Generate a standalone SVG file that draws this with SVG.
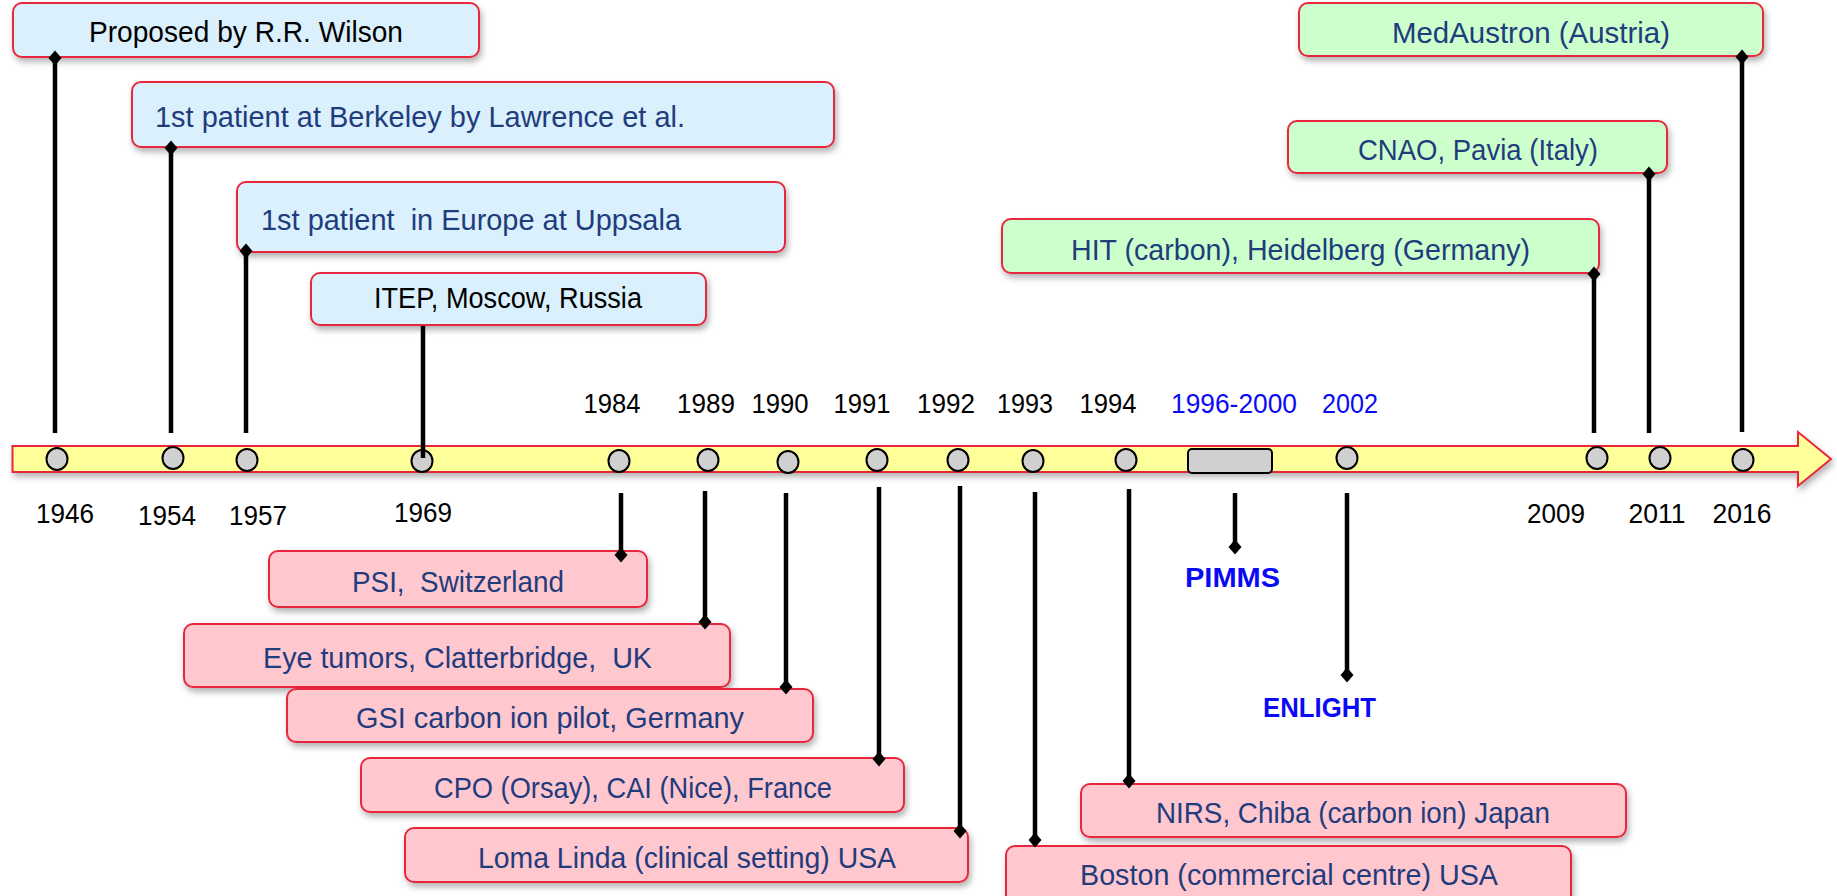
<svg xmlns="http://www.w3.org/2000/svg" width="1837" height="896" viewBox="0 0 1837 896">
<defs>
<filter id="sh" x="-5%" y="-20%" width="110%" height="160%">
<feDropShadow dx="2" dy="4" stdDeviation="3" flood-color="#000" flood-opacity="0.3"/>
</filter>
<marker id="dia" viewBox="-8 -8 16 16" markerWidth="16" markerHeight="16" markerUnits="userSpaceOnUse" orient="auto">
<polygon points="-7.5,0 0,-6.5 7.5,0 0,6.5" fill="#000"/>
</marker>
<style>
.box{stroke:#E8283C;stroke-width:2;filter:url(#sh)}
.blue{fill:#DAF0FC}
.green{fill:#CCFFCC}
.pink{fill:#FFC7CE}
.t{font-family:"Liberation Sans",Arial,sans-serif;font-size:29px}
.nav{fill:#1F3C7D}
.blk{fill:#000}
.yr{font-family:"Liberation Sans",Arial,sans-serif;font-size:27px;fill:#000;text-anchor:middle}
.yb{fill:#0A0AF5}
.bold{font-family:"Liberation Sans",Arial,sans-serif;font-size:27px;font-weight:bold;fill:#0A0AF5}
.ln{stroke:#000;stroke-width:4.5;fill:none}
.lnd{stroke:#000;stroke-width:4.5;fill:none;marker-end:url(#dia)}
.dot{fill:#D0D0D0;stroke:#000;stroke-width:2}
</style>
</defs>
<rect width="1837" height="896" fill="#fff"/>

<g id="timeline">
<polygon points="12.5,446 1798,446 1798,432 1831,459 1798,486 1798,472 12.5,472" fill="#FFFF99" stroke="#E8283C" stroke-width="2" filter="url(#sh)"/>
</g>

<g id="markers">
<ellipse class="dot" cx="57" cy="459" rx="10.5" ry="11"/>
<ellipse class="dot" cx="173" cy="458" rx="10.5" ry="11"/>
<ellipse class="dot" cx="247" cy="460" rx="10.5" ry="11"/>
<ellipse class="dot" cx="422" cy="461" rx="10.5" ry="11"/>
<ellipse class="dot" cx="619" cy="461" rx="10.5" ry="11"/>
<ellipse class="dot" cx="708" cy="460" rx="10.5" ry="11"/>
<ellipse class="dot" cx="788" cy="462" rx="10.5" ry="11"/>
<ellipse class="dot" cx="877" cy="460" rx="10.5" ry="11"/>
<ellipse class="dot" cx="958" cy="460" rx="10.5" ry="11"/>
<ellipse class="dot" cx="1033" cy="461" rx="10.5" ry="11"/>
<ellipse class="dot" cx="1126" cy="460" rx="10.5" ry="11"/>
<rect class="dot" x="1188" y="449" width="84" height="24" rx="4"/>
<ellipse class="dot" cx="1347" cy="458" rx="10.5" ry="11"/>
<ellipse class="dot" cx="1597" cy="458" rx="10.5" ry="11"/>
<ellipse class="dot" cx="1660" cy="458" rx="10.5" ry="11"/>
<ellipse class="dot" cx="1743" cy="460" rx="10.5" ry="11"/>
</g>

<g id="years">
<text class="yr" x="612" y="413" textLength="57" lengthAdjust="spacingAndGlyphs">1984</text>
<text class="yr" x="706" y="413" textLength="58" lengthAdjust="spacingAndGlyphs">1989</text>
<text class="yr" x="780" y="413" textLength="57" lengthAdjust="spacingAndGlyphs">1990</text>
<text class="yr" x="862" y="413" textLength="57" lengthAdjust="spacingAndGlyphs">1991</text>
<text class="yr" x="946" y="413" textLength="58" lengthAdjust="spacingAndGlyphs">1992</text>
<text class="yr" x="1025" y="413" textLength="56" lengthAdjust="spacingAndGlyphs">1993</text>
<text class="yr" x="1108" y="413" textLength="57" lengthAdjust="spacingAndGlyphs">1994</text>
<text class="yr yb" x="1234" y="413" textLength="126" lengthAdjust="spacingAndGlyphs">1996-2000</text>
<text class="yr yb" x="1350" y="413" textLength="56" lengthAdjust="spacingAndGlyphs">2002</text>
<text class="yr" x="65" y="523" textLength="58" lengthAdjust="spacingAndGlyphs">1946</text>
<text class="yr" x="167" y="525" textLength="58" lengthAdjust="spacingAndGlyphs">1954</text>
<text class="yr" x="258" y="525" textLength="58" lengthAdjust="spacingAndGlyphs">1957</text>
<text class="yr" x="423" y="522" textLength="58" lengthAdjust="spacingAndGlyphs">1969</text>
<text class="yr" x="1556" y="523" textLength="58" lengthAdjust="spacingAndGlyphs">2009</text>
<text class="yr" x="1657" y="523" textLength="57" lengthAdjust="spacingAndGlyphs">2011</text>
<text class="yr" x="1742" y="523" textLength="59" lengthAdjust="spacingAndGlyphs">2016</text>
</g>

<g id="n1946">
<rect class="box blue" x="13" y="3" width="466" height="54" rx="9"/>
<text class="t blk" x="89" y="42" textLength="314" lengthAdjust="spacingAndGlyphs">Proposed by R.R. Wilson</text>
</g>
<g id="n1954">
<rect class="box blue" x="132" y="82" width="702" height="65" rx="9"/>
<text class="t nav" x="155" y="127" textLength="530" lengthAdjust="spacingAndGlyphs">1st patient at Berkeley by Lawrence et al.</text>
</g>
<g id="n1957">
<rect class="box blue" x="237" y="182" width="548" height="70" rx="9"/>
<text class="t nav" x="261" y="230" textLength="420" lengthAdjust="spacingAndGlyphs" xml:space="preserve">1st patient  in Europe at Uppsala</text>
</g>
<g id="n1969">
<rect class="box blue" x="311" y="273" width="395" height="52" rx="9"/>
<text class="t blk" x="374" y="308" textLength="268" lengthAdjust="spacingAndGlyphs">ITEP, Moscow, Russia</text>
</g>
<g id="n2016">
<rect class="box green" x="1299" y="3" width="464" height="53" rx="9"/>
<text class="t nav" x="1392" y="43" textLength="278" lengthAdjust="spacingAndGlyphs">MedAustron (Austria)</text>
</g>
<g id="n2011">
<rect class="box green" x="1288" y="121" width="379" height="52" rx="9"/>
<text class="t nav" x="1358" y="160" textLength="240" lengthAdjust="spacingAndGlyphs">CNAO, Pavia (Italy)</text>
</g>
<g id="n2009">
<rect class="box green" x="1002" y="219" width="597" height="54" rx="9"/>
<text class="t nav" x="1071" y="260" textLength="459" lengthAdjust="spacingAndGlyphs">HIT (carbon), Heidelberg (Germany)</text>
</g>
<g id="n1984">
<rect class="box pink" x="269" y="551" width="378" height="56" rx="9"/>
<text class="t nav" x="352" y="592" textLength="212" lengthAdjust="spacingAndGlyphs" xml:space="preserve">PSI,  Switzerland</text>
</g>
<g id="n1989">
<rect class="box pink" x="184" y="624" width="546" height="63" rx="9"/>
<text class="t nav" x="263" y="668" textLength="389" lengthAdjust="spacingAndGlyphs" xml:space="preserve">Eye tumors, Clatterbridge,  UK</text>
</g>
<g id="n1990">
<rect class="box pink" x="287" y="689" width="526" height="53" rx="9"/>
<text class="t nav" x="356" y="728" textLength="388" lengthAdjust="spacingAndGlyphs">GSI carbon ion pilot, Germany</text>
</g>
<g id="n1991">
<rect class="box pink" x="361" y="758" width="543" height="54" rx="9"/>
<text class="t nav" x="434" y="798" textLength="398" lengthAdjust="spacingAndGlyphs">CPO (Orsay), CAI (Nice), France</text>
</g>
<g id="n1992">
<rect class="box pink" x="405" y="828" width="563" height="54" rx="9"/>
<text class="t nav" x="478" y="868" textLength="418" lengthAdjust="spacingAndGlyphs">Loma Linda (clinical setting) USA</text>
</g>
<g id="n1994">
<rect class="box pink" x="1081" y="784" width="545" height="53" rx="9"/>
<text class="t nav" x="1156" y="823" textLength="394" lengthAdjust="spacingAndGlyphs">NIRS, Chiba (carbon ion) Japan</text>
</g>
<g id="n1993">
<rect class="box pink" x="1006" y="846" width="565" height="60" rx="9"/>
<text class="t nav" x="1080" y="885" textLength="418" lengthAdjust="spacingAndGlyphs">Boston (commercial centre) USA</text>
</g>
<g id="pimms">
<text class="bold" x="1185" y="587" textLength="95" lengthAdjust="spacingAndGlyphs">PIMMS</text>
</g>
<g id="enlight">
<text class="bold" x="1263" y="717" textLength="113" lengthAdjust="spacingAndGlyphs">ENLIGHT</text>
</g>

<g id="connectors">
<path class="lnd" d="M55,433 V58"/>
<path class="lnd" d="M171,433 V148"/>
<path class="lnd" d="M246,433 V251"/>
<path class="ln" d="M423,458 V326"/>
<path class="lnd" d="M1594,433 V274"/>
<path class="lnd" d="M1649,433 V174"/>
<path class="lnd" d="M1742,432 V57"/>
<path class="lnd" d="M621,493 V555"/>
<path class="lnd" d="M705,491 V622"/>
<path class="lnd" d="M786,493 V687"/>
<path class="lnd" d="M879,487 V759"/>
<path class="lnd" d="M960,486 V831"/>
<path class="lnd" d="M1035,492 V840"/>
<path class="lnd" d="M1129,489 V781"/>
<path class="lnd" d="M1235,493 V547"/>
<path class="lnd" d="M1347,493 V675"/>
</g>
</svg>
